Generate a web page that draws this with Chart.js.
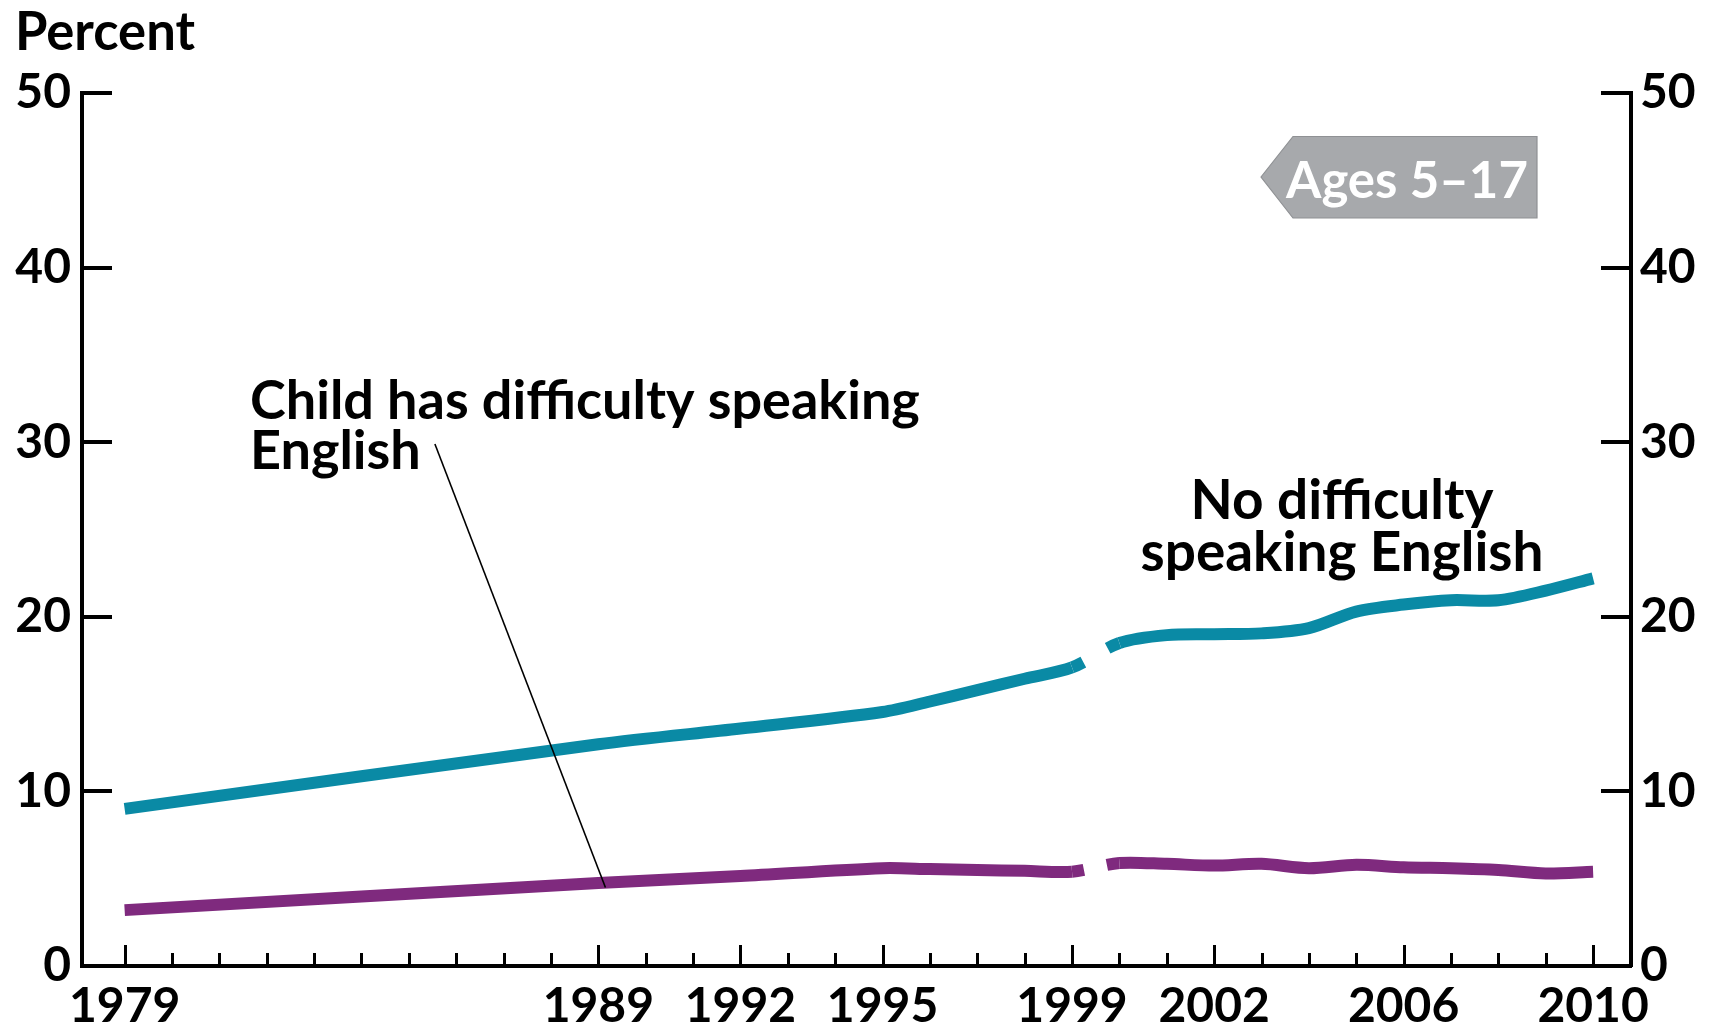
<!DOCTYPE html>
<html><head><meta charset="utf-8">
<script src="https://cdn.jsdelivr.net/npm/chart.js@4.4.1/dist/chart.umd.min.js"></script>
<style>html,body{margin:0;padding:0;background:#fff;}#wrap{width:1719px;height:1029px;}</style>
</head><body><div id="wrap"><canvas id="c" width="1719" height="1029"></canvas></div>
<script>
// ---- data ----
const years = [1979,1989,1992,1995,1996,1997,1998,1999,2000,2001,2002,2003,2004,2005,2006,2007,2008,2009,2010];
const noDifficulty  = [9.0,12.7,13.6,14.55,15.15,15.8,16.45,17.1,18.5,18.95,19.0,19.05,19.35,20.3,20.7,20.95,20.95,21.5,22.2];
const hasDifficulty = [3.2,4.75,5.15,5.6,5.55,5.5,5.45,5.4,5.9,5.85,5.75,5.85,5.6,5.8,5.65,5.6,5.5,5.3,5.4];
const tickYears = [1979,1980,1981,1982,1983,1984,1985,1986,1987,1988,1989,1990,1991,1992,1993,1994,1995,1996,1997,1998,1999,2000,2001,2002,2003,2004,2005,2006,2007,2008,2009,2010];
const labeledYears = [1979,1989,1992,1995,1999,2002,2006,2010];
const yTicks = [0,10,20,30,40,50];
const breakAfterYear = 1999;
const seriesNames = ['No difficulty speaking English','Child has difficulty speaking English'];

// ---- style ----
const FAMILY = 'Lato, "Noto Sans", sans-serif';
const TEAL = '#0A8AA5', PURPLE = '#7F2A7E';

function pts(vals){ return years.map((x,i)=>({x:x, y:vals[i]})); }

const tickPlugin = {
  id:'ticksInward',
  afterDraw(chart){
    const ctx = chart.ctx, x = chart.scales.x, y = chart.scales.y, y2 = chart.scales.y2;
    ctx.save();
    ctx.strokeStyle = '#000';
    ctx.lineWidth = 4;
    yTicks.forEach(v=>{
      if (v === 0) return;
      const py = Math.round(y.getPixelForValue(v));
      ctx.beginPath(); ctx.moveTo(chart.chartArea.left, py); ctx.lineTo(chart.chartArea.left+30, py); ctx.stroke();
      const py2 = Math.round(y2.getPixelForValue(v));
      ctx.beginPath(); ctx.moveTo(chart.chartArea.right, py2); ctx.lineTo(chart.chartArea.right-30, py2); ctx.stroke();
    });
    ctx.lineWidth = 3;
    const base = chart.chartArea.bottom;
    tickYears.forEach(v=>{
      const px = Math.round(x.getPixelForValue(v)) + 0.5;
      const len = labeledYears.includes(v) ? 21 : 13;
      ctx.beginPath(); ctx.moveTo(px, base); ctx.lineTo(px, base-len); ctx.stroke();
    });
    ctx.restore();
  }
};

function fitFont(ctx, text, width, weight){
  ctx.font = weight + ' 100px ' + FAMILY;
  return 100*width/ctx.measureText(text).width;
}

const annotPlugin = {
  id:'annot',
  afterDraw(chart){
    const ctx = chart.ctx, x = chart.scales.x, y = chart.scales.y;
    ctx.save();
    ctx.fillStyle = '#000';
    ctx.textBaseline = 'alphabetic';
    // Percent
    let s = fitFont(ctx,'Percent',180,'bold');
    ctx.font = 'bold '+s+'px '+FAMILY; ctx.textAlign='left';
    ctx.fillText('Percent', 15, 50);
    // Child label
    s = fitFont(ctx,'Child has difficulty speaking',670,'bold');
    ctx.font = 'bold '+s+'px '+FAMILY;
    ctx.fillText('Child has difficulty speaking', 250, 419);
    ctx.fillText('English', 250, 469);
    // No difficulty label
    s = fitFont(ctx,'speaking English',403,'bold');
    ctx.font = 'bold '+s+'px '+FAMILY; ctx.textAlign='center';
    ctx.fillText('No difficulty', 1342, 519);
    ctx.fillText('speaking English', 1342, 571);
    // leader line
    ctx.strokeStyle = '#000'; ctx.lineWidth = 1.6;
    ctx.beginPath();
    ctx.moveTo(x.getPixelForValue(1985.55), y.getPixelForValue(29.9));
    ctx.lineTo(x.getPixelForValue(1989.15), y.getPixelForValue(4.5));
    ctx.stroke();
    // Ages badge
    ctx.beginPath();
    ctx.moveTo(1261,177); ctx.lineTo(1293,136.5); ctx.lineTo(1537,136.5); ctx.lineTo(1537,218); ctx.lineTo(1293,218); ctx.closePath();
    ctx.fillStyle = '#A7A9AC'; ctx.fill();
    ctx.strokeStyle = '#8F9194'; ctx.lineWidth = 1.2; ctx.stroke();
    s = fitFont(ctx,'Ages 5\u201317',242,'bold');
    ctx.font = 'bold '+s+'px '+FAMILY; ctx.textAlign='left'; ctx.fillStyle='#fff';
    ctx.fillText('Ages 5\u201317', 1286, 198);
    ctx.restore();
  }
};

function lineDataset(label, vals, color, dash){
  return {
    label: label, data: pts(vals), borderColor: color, backgroundColor: color,
    borderWidth: 12, pointRadius: 0, tension: 0.3, fill:false,
    borderCapStyle:'butt', borderJoinStyle:'round',
    segment: { borderDash: c => c.p0.parsed.x === breakAfterYear ? dash : undefined }
  };
}

const tickFont = {family: FAMILY, size: 48, weight: 'bold'};

new Chart(document.getElementById('c'), {
  type: 'line',
  data: { datasets: [
    lineDataset(seriesNames[0], noDifficulty, TEAL, [12.5, 28, 400]),
    lineDataset(seriesNames[1], hasDifficulty, PURPLE, [12, 23.5, 400])
  ]},
  options: {
    responsive:false, animation:false, devicePixelRatio:1,
    layout:{padding:{top:93, left:0, right:0, bottom:0}},
    plugins:{legend:{display:false}, tooltip:{enabled:false}},
    scales:{
      x:{ type:'linear', min:1978.1, max:2010.8,
          afterBuildTicks: s => { s.ticks = tickYears.map(v=>({value:v})); },
          afterFit: s => { s.height = 63; },
          grid:{display:false, drawTicks:false},
          border:{display:true, color:'#000', width:4},
          ticks:{ autoSkip:false, maxRotation:0, padding:12, color:'#000', font:tickFont,
                  callback: v => labeledYears.includes(v) ? String(v) : '' } },
      y:{ position:'left', min:0, max:50,
          afterBuildTicks: s => { s.ticks = yTicks.map(v=>({value:v})); },
          afterFit: s => { s.width = 82; },
          grid:{display:false, drawTicks:false},
          border:{display:true, color:'#000', width:4},
          ticks:{ padding:11, color:'#000', font:tickFont } },
      y2:{ position:'right', min:0, max:50,
          afterBuildTicks: s => { s.ticks = yTicks.map(v=>({value:v})); },
          afterFit: s => { s.width = 88; },
          grid:{display:false, drawTicks:false},
          border:{display:true, color:'#000', width:4},
          ticks:{ padding:9, color:'#000', font:tickFont } }
    }
  },
  plugins:[tickPlugin, annotPlugin]
});
</script></body></html>
